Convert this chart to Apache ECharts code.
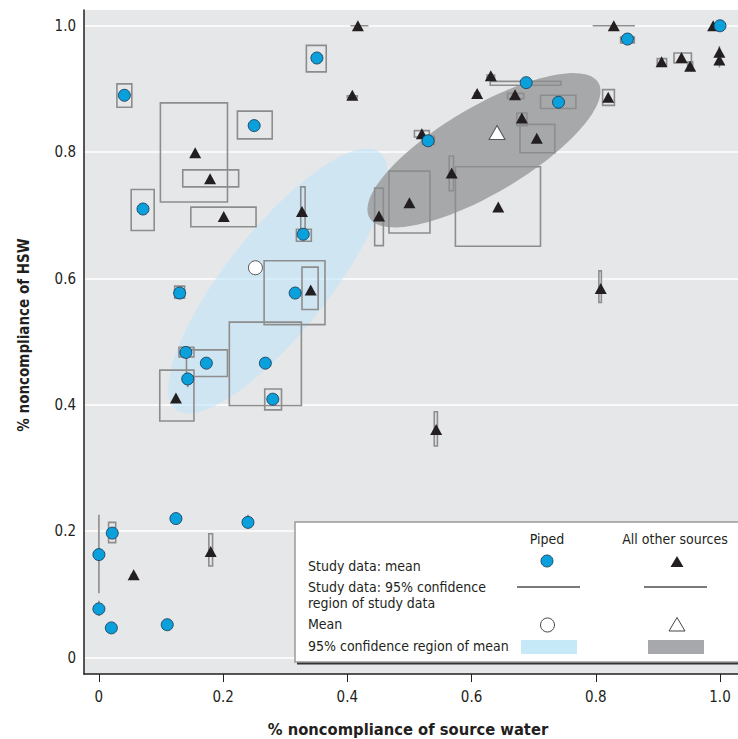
<!DOCTYPE html>
<html><head><meta charset="utf-8">
<script src="https://cdn.jsdelivr.net/npm/echarts@6/dist/echarts.min.js"></script>
<style>html,body{margin:0;padding:0;background:#fff}#c{width:738px;height:739px}</style>
</head><body><div id="c"></div>
<script>
const FONT = '"DejaVu Sans Condensed", "Liberation Sans Narrow", sans-serif';
const INK = '#231f20';

// tick values and labels
const xTicks = [0, 0.2, 0.4, 0.6, 0.8, 1.0];
const xTickLabels = ['0', '0.2', '0.4', '0.6', '0.8', '1.0'];
const yTicks = [0, 0.2, 0.4, 0.6, 0.8, 1.0];
const yTickLabels = ['0', '0.2', '0.4', '0.6', '0.8', '1.0'];

// Piped: study means [x, y]
const pipedMeans = [
  [0.041, 0.890], [0.351, 0.949], [0.250, 0.842], [0.071, 0.710], [0.329, 0.670],
  [0.130, 0.577], [0.316, 0.577], [0.140, 0.483], [0.173, 0.466], [0.268, 0.466],
  [0.143, 0.441], [0.280, 0.409], [0.124, 0.220], [0.240, 0.214], [0.0215, 0.197],
  [0.000, 0.163], [0.000, 0.077], [0.020, 0.047], [0.110, 0.052], [0.851, 0.979],
  [1.000, 1.000], [0.688, 0.910], [0.740, 0.879], [0.530, 0.818]
];
// Piped: 95% confidence region of study data [x0, x1, y0, y1]
const pipedCI = [
  [0.029, 0.053, 0.871, 0.908], [0.334, 0.366, 0.927, 0.969], [0.223, 0.279, 0.821, 0.865],
  [0.052, 0.089, 0.676, 0.741], [0.318, 0.342, 0.659, 0.678], [0.122, 0.138, 0.569, 0.588],
  [0.266, 0.364, 0.527, 0.628], [0.129, 0.153, 0.476, 0.491], [0.141, 0.207, 0.445, 0.487],
  [0.210, 0.326, 0.399, 0.531], [0.143, 0.143, 0.428, 0.451], [0.267, 0.294, 0.392, 0.425],
  null, [0.240, 0.240, 0.204, 0.226], [0.0156, 0.027, 0.182, 0.214],
  [0.000, 0.000, 0.102, 0.226], [0.000, 0.000, 0.066, 0.090], null,
  [0.110, 0.110, 0.045, 0.059], [0.840, 0.862, 0.973, 0.982],
  null, [0.630, 0.744, 0.906, 0.912], [0.711, 0.768, 0.869, 0.890], [0.521, 0.540, 0.812, 0.825]
];

// All other sources: study means [x, y]
const otherMeans = [
  [0.417, 1.000], [0.408, 0.890], [0.155, 0.799], [0.179, 0.758], [0.201, 0.698],
  [0.327, 0.706], [0.341, 0.582], [0.124, 0.411], [0.056, 0.131], [0.180, 0.168],
  [0.829, 1.000], [0.989, 1.000], [0.999, 0.958], [0.999, 0.946], [0.906, 0.943],
  [0.938, 0.950], [0.952, 0.936], [0.631, 0.921], [0.609, 0.893], [0.670, 0.891],
  [0.820, 0.887], [0.681, 0.854], [0.705, 0.822], [0.520, 0.829], [0.568, 0.767],
  [0.500, 0.720], [0.643, 0.713], [0.451, 0.699], [0.808, 0.584], [0.543, 0.361]
];
// All other sources: 95% confidence region of study data [x0, x1, y0, y1]
const otherCI = [
  [0.405, 0.434, 1.000, 1.000], [0.400, 0.416, 0.886, 0.889], [0.099, 0.207, 0.721, 0.878],
  [0.135, 0.225, 0.745, 0.772], [0.148, 0.253, 0.682, 0.713], [0.325, 0.332, 0.672, 0.745],
  [0.327, 0.353, 0.551, 0.618], [0.098, 0.153, 0.3745, 0.455], [0.052, 0.060, 0.128, 0.131],
  [0.177, 0.183, 0.145, 0.196], [0.795, 0.863, 1.000, 1.000], null,
  [0.999, 0.999, 0.934, 0.968], null, [0.899, 0.914, 0.938, 0.948],
  [0.926, 0.954, 0.941, 0.957], [0.948, 0.956, 0.936, 0.943], [0.625, 0.637, 0.916, 0.922],
  [0.605, 0.613, 0.889, 0.894], [0.658, 0.684, 0.885, 0.893], [0.811, 0.830, 0.874, 0.899],
  [0.673, 0.689, 0.842, 0.862], [0.678, 0.734, 0.799, 0.844], [0.508, 0.532, 0.824, 0.834],
  [0.564, 0.571, 0.739, 0.794], [0.467, 0.533, 0.672, 0.770], [0.574, 0.711, 0.651, 0.777],
  [0.444, 0.458, 0.652, 0.743], [0.805, 0.809, 0.562, 0.612], [0.540, 0.545, 0.335, 0.389]
];

// Overall means
const pipedMean = [[0.252, 0.617]];
const otherMean = [[0.641, 0.831]];

// 95% confidence regions of mean: [cx, cy, semiMajor, semiMinor, angleDeg]
const pipedRegion = [[0.288, 0.596, 0.2615, 0.082, 51]];
const otherRegion = [[0.620, 0.803, 0.213, 0.069, 30]];

const chart = echarts.init(document.getElementById('c'), null, {renderer: 'svg'});

function labelFor(ticks, labels) {
  return v => { for (let i = 0; i < ticks.length; i++) if (Math.abs(ticks[i] - v) < 1e-9) return labels[i]; return ''; };
}

function ellipseItem(params, api) {
  const cx = api.value(0), cy = api.value(1), a = api.value(2), b = api.value(3);
  const th = api.value(4) * Math.PI / 180;
  const pts = [];
  for (let i = 0; i < 120; i++) {
    const t = i / 120 * Math.PI * 2;
    const dx = a * Math.cos(t), dy = b * Math.sin(t);
    pts.push(api.coord([cx + dx * Math.cos(th) - dy * Math.sin(th), cy + dx * Math.sin(th) + dy * Math.cos(th)]));
  }
  return {type: 'polygon', shape: {points: pts}, style: api.style()};
}

function boxItem(params, api) {
  const p0 = api.coord([api.value(0), api.value(3)]);
  const p1 = api.coord([api.value(1), api.value(2)]);
  return {type: 'rect', shape: {x: p0[0], y: p0[1], width: p1[0] - p0[0], height: p1[1] - p0[1]},
    style: {fill: 'none', stroke: '#8d8d8d', lineWidth: 1.6}};
}

const boxes = pipedCI.concat(otherCI).filter(b => b);

const option = {
  animation: false,
  backgroundColor: '#ffffff',
  grid: {left: 84, right: 0, top: 10, bottom: 65, show: true, backgroundColor: '#e6e7e9', borderWidth: 0,
         containLabel: false, outerBoundsMode: 'none'},
  xAxis: {
    type: 'value', min: -0.024, max: 1.029,
    axisLine: {show: true, onZero: false, lineStyle: {color: INK, width: 1.5}},
    axisTick: {show: true, customValues: xTicks, length: 8, lineStyle: {color: INK, width: 1}},
    axisLabel: {customValues: xTicks, formatter: labelFor(xTicks, xTickLabels), fontFamily: FONT, fontSize: 15, color: INK, margin: 15},
    splitLine: {show: false}
  },
  yAxis: {
    type: 'value', min: -0.026, max: 1.025,
    axisLine: {show: true, onZero: false, lineStyle: {color: INK, width: 1.5}},
    axisTick: {show: false, customValues: yTicks},
    axisLabel: {customValues: yTicks, formatter: labelFor(yTicks, yTickLabels), fontFamily: FONT, fontSize: 15, color: INK, margin: 8},
    splitLine: {show: true, lineStyle: {color: '#ffffff', width: 1.5}}
  },
  series: [
    {type: 'custom', name: 'pipedRegion', data: pipedRegion, renderItem: ellipseItem, z: 1,
     itemStyle: {color: 'rgba(190,228,250,0.55)'}, encode: {x: 0, y: 1}, silent: true},
    {type: 'custom', name: 'otherRegion', data: otherRegion, renderItem: ellipseItem, z: 1,
     itemStyle: {color: 'rgba(156,157,160,0.86)'}, encode: {x: 0, y: 1}, silent: true},
    {type: 'custom', name: 'ci', data: boxes, renderItem: boxItem, z: 2, encode: {x: [0, 1], y: [2, 3]}, silent: true},
    {type: 'scatter', name: 'otherStudy', data: otherMeans, symbol: 'triangle', symbolSize: [12, 11], z: 3,
     itemStyle: {color: INK, opacity: 1}},
    {type: 'scatter', name: 'pipedStudy', data: pipedMeans, symbol: 'circle', symbolSize: 12, z: 4,
     itemStyle: {color: '#0aa0dc', borderColor: '#1b3f5c', borderWidth: 0.9, opacity: 1}},
    {type: 'scatter', name: 'pipedMean', data: pipedMean, symbol: 'circle', symbolSize: 14, z: 5,
     itemStyle: {color: '#ffffff', borderColor: '#555555', borderWidth: 1, opacity: 1}},
    {type: 'scatter', name: 'otherMean', data: otherMean, symbol: 'triangle', symbolSize: [16, 14], z: 5,
     itemStyle: {color: '#ffffff', borderColor: '#555555', borderWidth: 1, opacity: 1}}
  ],
  graphic: [
    {type: 'text', x: 408, y: 729, style: {text: '% noncompliance of source water', align: 'center', verticalAlign: 'middle',
      font: 'bold 16.4px ' + FONT, fill: INK}},
    {type: 'text', rotation: Math.PI / 2, x: 24, y: 335, style: {text: '% noncompliance of HSW', align: 'center', verticalAlign: 'middle',
      font: 'bold 15px ' + FONT, fill: INK}},
    // legend
    {type: 'rect', shape: {x: 297, y: 524.5, width: 460, height: 140}, style: {fill: '#333333'}, z: 10},
    {type: 'rect', shape: {x: 295, y: 522, width: 460, height: 140}, style: {fill: '#ffffff', stroke: '#9a9a9a', lineWidth: 1.5}, z: 11},
    {type: 'text', z: 12, style: {text: 'Piped', x: 547, y: 539, align: 'center', verticalAlign: 'middle', font: '14px ' + FONT, fill: INK}},
    {type: 'text', z: 12, style: {text: 'All other sources', x: 675, y: 539, align: 'center', verticalAlign: 'middle', font: '14px ' + FONT, fill: INK}},
    {type: 'text', z: 12, style: {text: 'Study data: mean', x: 308, y: 566, verticalAlign: 'middle', font: '14px ' + FONT, fill: INK}},
    {type: 'text', z: 12, style: {text: 'Study data: 95% confidence', x: 308, y: 587, verticalAlign: 'middle', font: '14px ' + FONT, fill: INK}},
    {type: 'text', z: 12, style: {text: 'region of study data', x: 308, y: 603, verticalAlign: 'middle', font: '14px ' + FONT, fill: INK}},
    {type: 'text', z: 12, style: {text: 'Mean', x: 308, y: 624, verticalAlign: 'middle', font: '14px ' + FONT, fill: INK}},
    {type: 'text', z: 12, style: {text: '95% confidence region of mean', x: 308, y: 646, verticalAlign: 'middle', font: '14px ' + FONT, fill: INK}},
    {type: 'circle', z: 12, shape: {cx: 547, cy: 561, r: 6}, style: {fill: '#0aa0dc', stroke: '#1b3f5c', lineWidth: 0.9}},
    {type: 'polygon', z: 12, shape: {points: [[677, 556], [683.5, 567], [670.5, 567]]}, style: {fill: INK}},
    {type: 'line', z: 12, shape: {x1: 517, y1: 587, x2: 580, y2: 587}, style: {stroke: '#7a7a7a', lineWidth: 2}},
    {type: 'line', z: 12, shape: {x1: 644, y1: 587, x2: 707, y2: 587}, style: {stroke: '#7a7a7a', lineWidth: 2}},
    {type: 'circle', z: 12, shape: {cx: 547.5, cy: 625, r: 7}, style: {fill: '#ffffff', stroke: '#444444', lineWidth: 1}},
    {type: 'polygon', z: 12, shape: {points: [[677, 617.5], [685, 631], [669, 631]]}, style: {fill: '#ffffff', stroke: '#444444', lineWidth: 1}},
    {type: 'rect', z: 12, shape: {x: 521, y: 640, width: 56, height: 14}, style: {fill: '#c6e9f8'}},
    {type: 'rect', z: 12, shape: {x: 648, y: 640, width: 56, height: 14}, style: {fill: '#a7a8ab'}}
  ]
};
chart.setOption(option);
</script></body></html>
